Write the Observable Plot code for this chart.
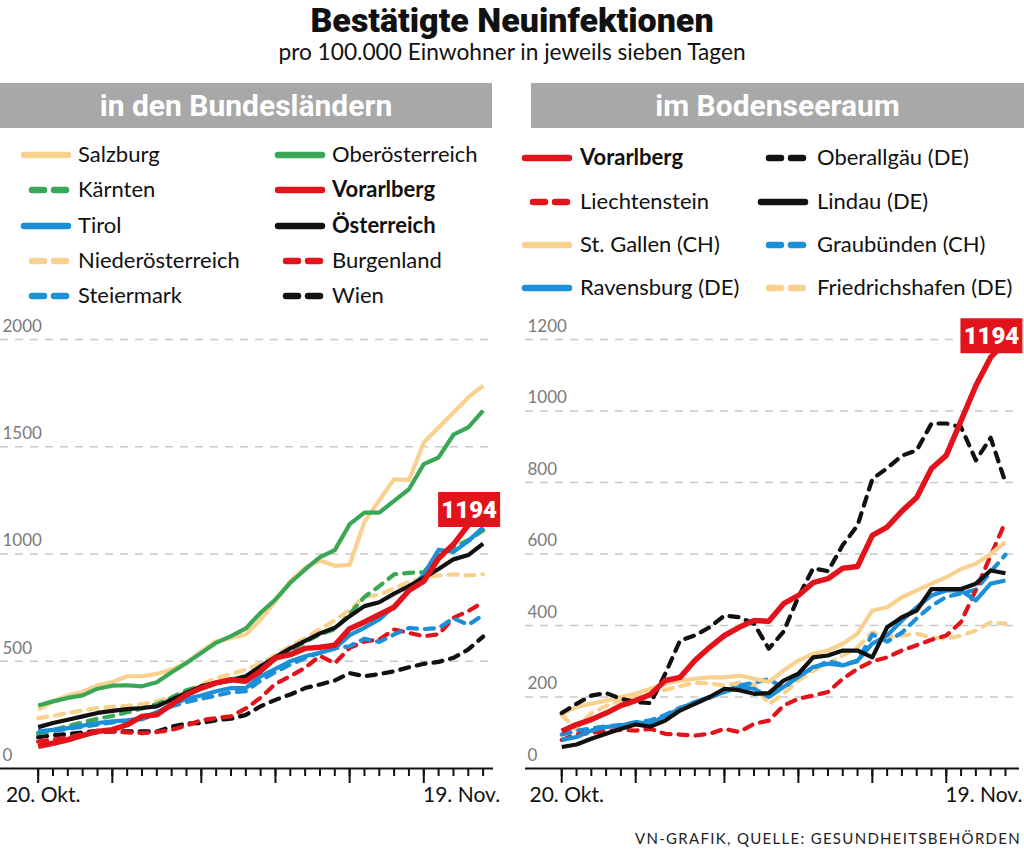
<!DOCTYPE html>
<html><head><meta charset="utf-8">
<script src="https://cdn.jsdelivr.net/npm/d3@7"></script>
<script src="https://cdn.jsdelivr.net/npm/@observablehq/plot@0.6"></script>
<style>
body{margin:0;background:#fff;}
#page{position:relative;width:1024px;height:850px;overflow:hidden;background:#fff;font-family:Lato,"Noto Sans",sans-serif;color:#111;}
.abs{position:absolute;}
#title{left:0;top:0px;width:1024px;text-align:center;font-family:Roboto,"Liberation Sans",sans-serif;font-weight:900;font-size:34px;letter-spacing:0px;line-height:40px;}
#subtitle{left:0;top:38px;width:1024px;text-align:center;font-size:22.7px;line-height:28px;}
.bar{top:83px;height:45px;background:#a8a8a8;color:#fff;text-align:center;font-family:Roboto,"Liberation Sans",sans-serif;font-weight:bold;font-size:30px;line-height:45px;}
.leg{font-size:22px;line-height:1;white-space:nowrap;}
#caption{right:3px;top:829px;font-size:15px;letter-spacing:1.3px;color:#222;}
.plot{top:310px;}
</style></head>
<body><div id="page">
<div id="title" class="abs">Bestätigte Neuinfektionen</div>
<div id="subtitle" class="abs">pro 100.000 Einwohner in jeweils sieben Tagen</div>
<div class="abs bar" style="left:0;width:492px">in den Bundesländern</div>
<div class="abs bar" style="left:531px;width:493px">im Bodenseeraum</div>
<div id="caption" class="abs">VN-GRAFIK, QUELLE: GESUNDHEITSBEHÖRDEN</div>
</div>
<script>
// ---- categories ----
const startDate = "2020-10-20";
const endDate = "2020-11-19";
const majorTickIdx = [0, 5, 11, 16, 21, 26];
const firstLabel = "20. Okt.";
const lastLabel = "19. Nov.";
const leftYTicks = [0, 500, 1000, 1500, 2000];
const rightYTicks = [0, 200, 400, 600, 800, 1000, 1200];
const highlightLabel = "1194";

// ---- left: Bundesländer ----
const salzburg = [274, 313, 341, 357, 388, 403, 430, 430, 441, 461, 492, 547, 593, 609, 625, 695, 780, 874, 936, 970, 945, 950, 1150, 1250, 1349, 1344, 1520, 1590, 1660, 1730, 1785];
const oberoesterreich = [294, 313, 329, 341, 372, 386, 388, 383, 402, 449, 492, 539, 586, 617, 653, 726, 788, 866, 928, 985, 1018, 1139, 1193, 1193, 1248, 1302, 1419, 1450, 1556, 1590, 1668];
const kaernten = [165, 180, 198, 215, 232, 245, 262, 280, 300, 330, 365, 385, 400, 415, 430, 470, 510, 550, 590, 625, 650, 720, 800, 850, 905, 912, 915, 995, 1030, 1065, 1110];
const tirol = [173, 180, 188, 200, 212, 220, 225, 235, 262, 298, 325, 340, 360, 375, 375, 430, 465, 500, 523, 540, 560, 622, 656, 695, 757, 827, 905, 1020, 1010, 1060, 1125];
const niederoesterreich = [235, 245, 259, 270, 282, 288, 292, 300, 313, 335, 360, 390, 422, 440, 461, 490, 530, 570, 610, 650, 690, 740, 800, 810, 840, 870, 890, 900, 905, 900, 905];
const steiermark = [165, 175, 185, 195, 205, 215, 222, 230, 255, 290, 310, 325, 340, 355, 360, 410, 450, 485, 515, 540, 560, 570, 605, 590, 625, 655, 650, 655, 700, 670, 715];
const vorarlbergL = [103, 118, 134, 154, 173, 181, 204, 243, 251, 298, 344, 375, 399, 414, 407, 455, 516, 531, 560, 565, 575, 652, 683, 718, 752, 830, 873, 980, 1045, 1135, 1194];
const oesterreich = [193, 212, 227, 243, 259, 269, 277, 282, 290, 321, 352, 383, 399, 410, 430, 477, 520, 560, 595, 630, 656, 710, 757, 775, 815, 850, 889, 930, 975, 995, 1048];
const burgenland = [125, 135, 145, 160, 168, 172, 168, 165, 170, 180, 200, 225, 235, 243, 280, 330, 395, 430, 470, 525, 490, 562, 593, 601, 648, 632, 617, 625, 702, 734, 775];
const wien = [146, 155, 160, 168, 175, 173, 173, 173, 173, 195, 210, 212, 225, 232, 250, 290, 320, 345, 375, 392, 410, 445, 430, 440, 453, 472, 488, 497, 516, 555, 615];

// ---- right: Bodenseeraum ----
const vorarlbergR = [104, 123, 137, 155, 176, 190, 207, 246, 255, 302, 339, 372, 395, 414, 412, 461, 484, 520, 531, 560, 565, 652, 675, 720, 758, 839, 876, 973, 1071, 1150, 1194];
const liechtenstein = [80, 95, 100, 105, 108, 106, 111, 97, 95, 92, 97, 111, 102, 125, 134, 176, 195, 204, 214, 251, 279, 300, 311, 330, 345, 360, 372, 410, 500, 595, 690];
const stGallen = [153, 172, 181, 190, 200, 209, 223, 237, 246, 251, 255, 255, 260, 251, 242, 274, 302, 321, 330, 349, 377, 442, 451, 479, 498, 517, 535, 558, 573, 600, 633];
const ravensburg = [80, 88, 106, 116, 120, 130, 125, 148, 167, 186, 200, 214, 228, 223, 200, 228, 256, 284, 293, 288, 302, 349, 372, 414, 451, 484, 498, 498, 470, 517, 526];
const oberallgaeu = [155, 181, 204, 211, 195, 186, 183, 265, 358, 372, 395, 428, 423, 405, 335, 383, 480, 560, 552, 625, 680, 810, 840, 875, 890, 965, 965, 955, 862, 925, 800];
const lindau = [60, 67, 83, 97, 111, 123, 117, 134, 162, 181, 200, 223, 219, 209, 211, 246, 265, 311, 316, 330, 330, 311, 395, 423, 442, 502, 502, 502, 517, 554, 546];
const graubuenden = [95, 105, 112, 118, 122, 128, 135, 150, 170, 182, 198, 215, 232, 240, 250, 225, 260, 280, 300, 290, 300, 375, 355, 380, 420, 455, 480, 490, 500, 550, 598];
const friedrichshafen = [150, 110, 155, 175, 190, 200, 208, 220, 230, 240, 238, 232, 240, 235, 180, 209, 246, 274, 293, 316, 339, 381, 367, 372, 377, 367, 363, 372, 386, 409, 405];

// ---- series styling ----
const PEACH = "#f9d18e", GREEN = "#3aa757", BLUE = "#1b8fd7", RED = "#e3131b", BLACK = "#111111";
const leftNames  = ["Salzburg","Kärnten","Tirol","Niederösterreich","Steiermark","Oberösterreich","Vorarlberg","Österreich","Burgenland","Wien"];
const leftValues = [salzburg, kaernten, tirol, niederoesterreich, steiermark, oberoesterreich, vorarlbergL, oesterreich, burgenland, wien];
const leftColors = [PEACH, GREEN, BLUE, PEACH, BLUE, GREEN, RED, BLACK, RED, BLACK];
const leftDashed = [false, true, false, true, true, false, false, false, true, true];
const leftBold   = [false, false, false, false, false, false, true, true, false, false];
const leftOrder  = [9, 8, 4, 3, 1, 2, 0, 5, 7, 6];

const rightNames  = ["Vorarlberg","Liechtenstein","St. Gallen (CH)","Ravensburg (DE)","Oberallgäu (DE)","Lindau (DE)","Graubünden (CH)","Friedrichshafen (DE)"];
const rightValues = [vorarlbergR, liechtenstein, stGallen, ravensburg, oberallgaeu, lindau, graubuenden, friedrichshafen];
const rightColors = [RED, RED, PEACH, BLUE, BLACK, BLACK, BLUE, PEACH];
const rightDashed = [false, true, false, false, true, false, true, true];
const rightBold   = [true, false, false, false, false, false, false, false];
const rightOrder  = [7, 6, 1, 2, 3, 5, 4, 0];

const parse = d3.utcParse("%Y-%m-%d");
const dates = d3.utcDay.range(parse(startDate), d3.utcDay.offset(parse(endDate), 1));
const DAY = 864e5;
const BOXFONT = "Roboto, 'Liberation Sans', sans-serif";

const boxSymbol = {draw(ctx) { ctx.rect(-31, -17.5, 62, 35); }};

function panel({names, values, colors, dashed, order, yMax, yTicks, marginLeft, marginRight, preDays, postDays, boxDy}) {
  const lineMarks = order.map(k => {
    const rows = dates.map((d, i) => ({date: d, value: values[k][i]}));
    const isMain = names[k] === "Vorarlberg";
    return Plot.line(rows, {
      x: "date", y: "value", stroke: colors[k],
      strokeWidth: isMain ? 5.5 : 4.2,
      strokeDasharray: dashed[k] ? "9,8" : null,
      strokeLinecap: dashed[k] ? "round" : "butt",
      strokeLinejoin: "round"
    });
  });
  const vIdx = names.indexOf("Vorarlberg");
  const last = [{date: dates[dates.length - 1], value: values[vIdx][dates.length - 1]}];
  const majors = majorTickIdx.map(i => dates[i]);
  return Plot.plot({
    width: 512, height: 500,
    marginTop: 29, marginBottom: 42, marginLeft, marginRight,
    style: {fontFamily: "Lato, 'Noto Sans', sans-serif", background: "transparent", overflow: "visible"},
    x: {type: "utc", domain: [new Date(+dates[0] - preDays * DAY), new Date(+dates[0] + postDays * DAY)], axis: null},
    y: {domain: [0, yMax], axis: null},
    marks: [
      Plot.ruleY(yTicks.filter(d => d > 0), {stroke: "#c8c8c8", strokeWidth: 1.4, strokeDasharray: "8,7"}),
      Plot.text(yTicks, {y: d => d, frameAnchor: "left", dx: 2, dy: -13, textAnchor: "start", text: d => String(d), fill: "#7a7a7a", fontSize: 17}),
      ...lineMarks,
      Plot.ruleY([0], {stroke: "#111", strokeWidth: 2}),
      Plot.axisX(dates, {tickSize: 8, tickFormat: () => "", stroke: "#111", strokeWidth: 2, label: null}),
      Plot.axisX(majors, {tickSize: 15, tickFormat: () => "", stroke: "#111", strokeWidth: 2, label: null}),
      Plot.text([dates[0]], {x: d => d, frameAnchor: "bottom", dy: 33, dx: 5, text: () => firstLabel, fontSize: 21, fill: "#111"}),
      Plot.text([dates[dates.length - 1]], {x: d => d, frameAnchor: "bottom", dy: 33, dx: 17, textAnchor: "end", text: () => lastLabel, fontSize: 21, fill: "#111"}),
      Plot.dot(last, {x: "date", y: "value", symbol: boxSymbol, fill: RED, stroke: null, dx: -14, dy: boxDy}),
      Plot.text(last, {x: "date", y: "value", text: () => highlightLabel, fill: "#fff", fontWeight: 900, fontSize: 24, fontFamily: BOXFONT, dx: -14, dy: boxDy + 1})
    ]
  });
}

const page = document.getElementById("page");
const left = panel({names: leftNames, values: leftValues, colors: leftColors, dashed: leftDashed, order: leftOrder,
  yMax: 2000, yTicks: leftYTicks, marginLeft: 0, marginRight: 19, preDays: 2.54, postDays: 30.7, boxDy: -3});
left.classList.add("abs", "plot"); left.style.left = "0px";
page.appendChild(left);
const right = panel({names: rightNames, values: rightValues, colors: rightColors, dashed: rightDashed, order: rightOrder,
  yMax: 1200, yTicks: rightYTicks, marginLeft: 13, marginRight: 5, preDays: 2.45, postDays: 30.95, boxDy: -6});
right.classList.add("abs", "plot"); right.style.left = "512px";
page.appendChild(right);

// ---- legends ----
function legend(names, colors, dashed, bold, cols) {
  cols.forEach(col => col.rows.forEach((k, r) => {
    const y = col.ys[r];
    const w = dashed[k] ? 36 : 44;
    const svg = d3.create("svg").attr("width", w + 8).attr("height", 12)
      .style("position", "absolute").style("left", (col.swatchRight - w - 4) + "px").style("top", (y - 6) + "px");
    svg.append("line").attr("x1", 4).attr("x2", w + 4).attr("y1", 6).attr("y2", 6)
      .attr("stroke", colors[k]).attr("stroke-width", 6.5).attr("stroke-linecap", "round")
      .attr("stroke-dasharray", dashed[k] ? "12,10" : null);
    page.appendChild(svg.node());
    const t = document.createElement("div");
    t.className = "abs leg";
    t.textContent = names[k];
    t.style.left = col.textX + "px";
    t.style.top = (y - 12) + "px";
    if (bold[k]) t.style.fontWeight = "bold";
    page.appendChild(t);
  }));
}
legend(leftNames, leftColors, leftDashed, leftBold, [
  {swatchRight: 68, textX: 78, rows: [0,1,2,3,4], ys: [155, 190, 226, 261, 296]},
  {swatchRight: 322, textX: 332, rows: [5,6,7,8,9], ys: [155, 190, 226, 261, 296]}
]);
legend(rightNames, rightColors, rightDashed, rightBold, [
  {swatchRight: 569, textX: 580, rows: [0,1,2,3], ys: [158, 202, 245, 288]},
  {swatchRight: 805, textX: 817, rows: [4,5,6,7], ys: [158, 202, 245, 288]}
]);
</script>
</body></html>
